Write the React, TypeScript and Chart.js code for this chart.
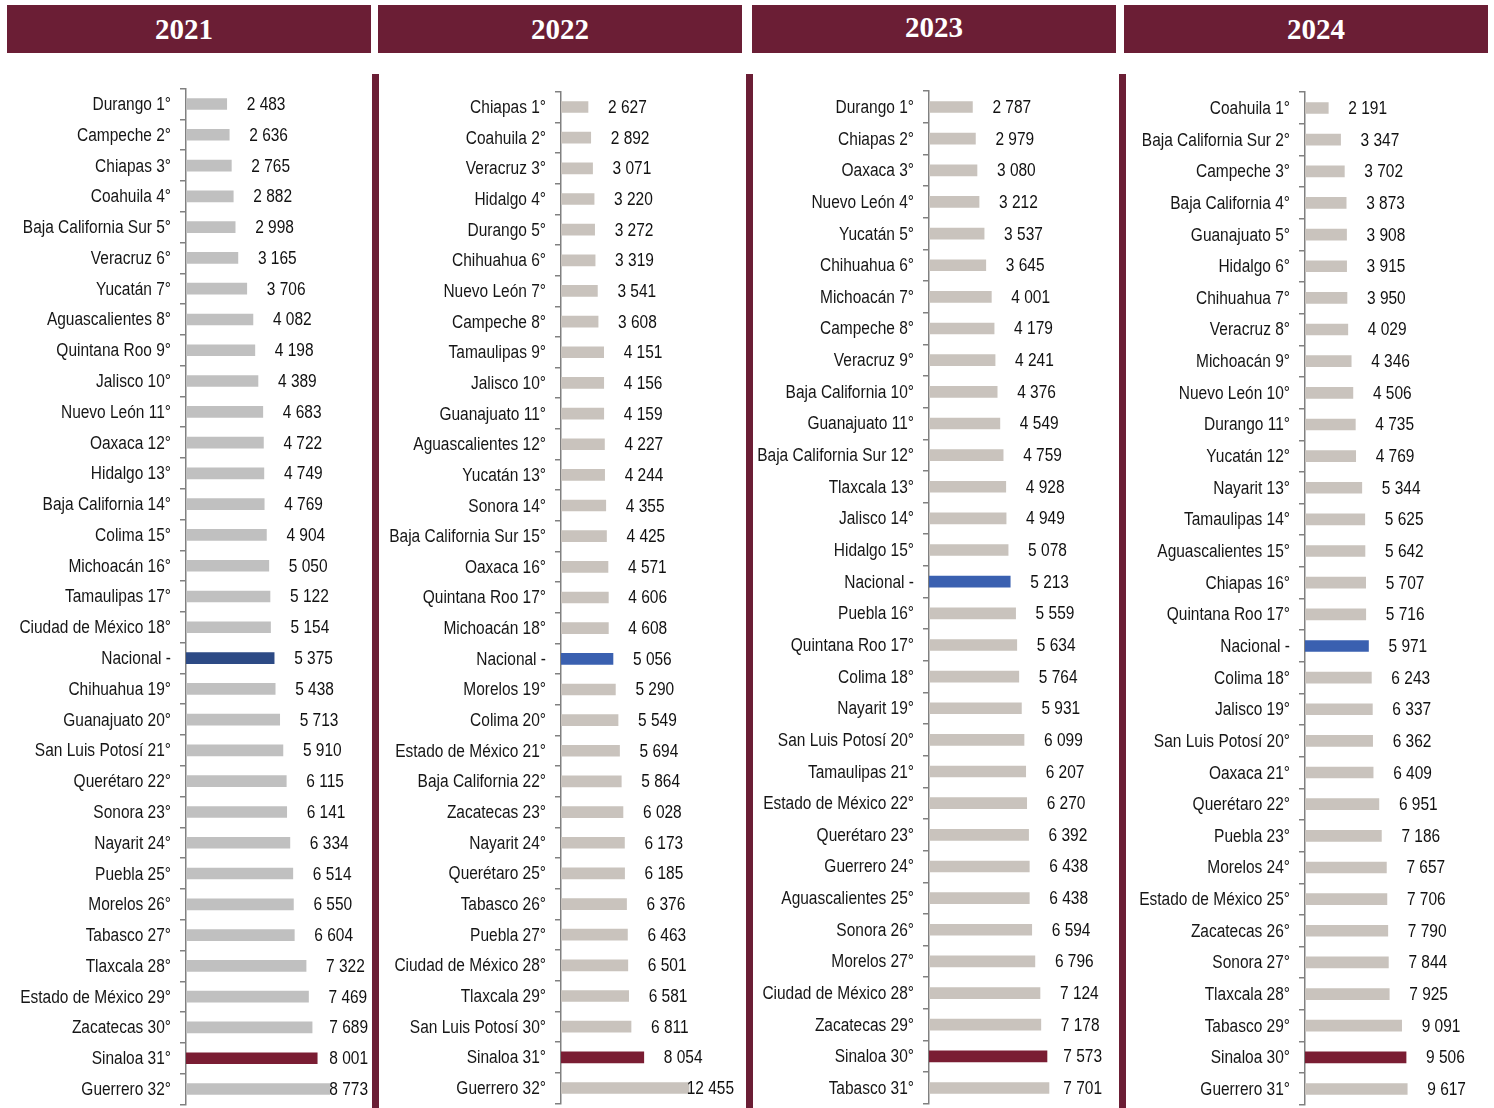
import React, { useEffect, useRef } from "react";
import { Chart, registerables } from "chart.js";
Chart.register(...registerables);

const years = ["2021", "2022", "2023", "2024"];

const labels2021 = ["Durango 1°", "Campeche 2°", "Chiapas 3°", "Coahuila 4°", "Baja California Sur 5°", "Veracruz 6°", "Yucatán 7°", "Aguascalientes 8°", "Quintana Roo 9°", "Jalisco 10°", "Nuevo León 11°", "Oaxaca 12°", "Hidalgo 13°", "Baja California 14°", "Colima 15°", "Michoacán 16°", "Tamaulipas 17°", "Ciudad de México 18°", "Nacional -", "Chihuahua 19°", "Guanajuato 20°", "San Luis Potosí 21°", "Querétaro 22°", "Sonora 23°", "Nayarit 24°", "Puebla 25°", "Morelos 26°", "Tabasco 27°", "Tlaxcala 28°", "Estado de México 29°", "Zacatecas 30°", "Sinaloa 31°", "Guerrero 32°"];
const values2021 = [2483, 2636, 2765, 2882, 2998, 3165, 3706, 4082, 4198, 4389, 4683, 4722, 4749, 4769, 4904, 5050, 5122, 5154, 5375, 5438, 5713, 5910, 6115, 6141, 6334, 6514, 6550, 6604, 7322, 7469, 7689, 8001, 8773];

const labels2022 = ["Chiapas 1°", "Coahuila 2°", "Veracruz 3°", "Hidalgo 4°", "Durango 5°", "Chihuahua 6°", "Nuevo León 7°", "Campeche 8°", "Tamaulipas 9°", "Jalisco 10°", "Guanajuato 11°", "Aguascalientes 12°", "Yucatán 13°", "Sonora 14°", "Baja California Sur 15°", "Oaxaca 16°", "Quintana Roo 17°", "Michoacán 18°", "Nacional -", "Morelos 19°", "Colima 20°", "Estado de México 21°", "Baja California 22°", "Zacatecas 23°", "Nayarit 24°", "Querétaro 25°", "Tabasco 26°", "Puebla 27°", "Ciudad de México 28°", "Tlaxcala 29°", "San Luis Potosí 30°", "Sinaloa 31°", "Guerrero 32°"];
const values2022 = [2627, 2892, 3071, 3220, 3272, 3319, 3541, 3608, 4151, 4156, 4159, 4227, 4244, 4355, 4425, 4571, 4606, 4608, 5056, 5290, 5549, 5694, 5864, 6028, 6173, 6185, 6376, 6463, 6501, 6581, 6811, 8054, 12455];

const labels2023 = ["Durango 1°", "Chiapas 2°", "Oaxaca 3°", "Nuevo León 4°", "Yucatán 5°", "Chihuahua 6°", "Michoacán 7°", "Campeche 8°", "Veracruz 9°", "Baja California 10°", "Guanajuato 11°", "Baja California Sur 12°", "Tlaxcala 13°", "Jalisco 14°", "Hidalgo 15°", "Nacional -", "Puebla 16°", "Quintana Roo 17°", "Colima 18°", "Nayarit 19°", "San Luis Potosí 20°", "Tamaulipas 21°", "Estado de México 22°", "Querétaro 23°", "Guerrero 24°", "Aguascalientes 25°", "Sonora 26°", "Morelos 27°", "Ciudad de México 28°", "Zacatecas 29°", "Sinaloa 30°", "Tabasco 31°"];
const values2023 = [2787, 2979, 3080, 3212, 3537, 3645, 4001, 4179, 4241, 4376, 4549, 4759, 4928, 4949, 5078, 5213, 5559, 5634, 5764, 5931, 6099, 6207, 6270, 6392, 6438, 6438, 6594, 6796, 7124, 7178, 7573, 7701];

const labels2024 = ["Coahuila 1°", "Baja California Sur 2°", "Campeche 3°", "Baja California 4°", "Guanajuato 5°", "Hidalgo 6°", "Chihuahua 7°", "Veracruz 8°", "Michoacán 9°", "Nuevo León 10°", "Durango 11°", "Yucatán 12°", "Nayarit 13°", "Tamaulipas 14°", "Aguascalientes 15°", "Chiapas 16°", "Quintana Roo 17°", "Nacional -", "Colima 18°", "Jalisco 19°", "San Luis Potosí 20°", "Oaxaca 21°", "Querétaro 22°", "Puebla 23°", "Morelos 24°", "Estado de México 25°", "Zacatecas 26°", "Sonora 27°", "Tlaxcala 28°", "Tabasco 29°", "Sinaloa 30°", "Guerrero 31°"];
const values2024 = [2191, 3347, 3702, 3873, 3908, 3915, 3950, 4029, 4346, 4506, 4735, 4769, 5344, 5625, 5642, 5707, 5716, 5971, 6243, 6337, 6362, 6409, 6951, 7186, 7657, 7706, 7790, 7844, 7925, 9091, 9506, 9617];

const MAROON = "#6B1E35";
const FONT = "18px 'Liberation Sans', Arial, sans-serif";
const SCALE_X = 0.86;

type Panel = {
  labels: string[];
  values: number[];
  left: number;
  width: number;
  yWidth: number;
  padTop: number;
  padBottom: number;
  padRight: number;
  xMax: number;
  gray: string;
  blue: string;
};

const panels: Panel[] = [
  { labels: labels2021, values: values2021, left: 0, width: 372, yWidth: 186, padTop: 14.6, padBottom: 3.6, padRight: 4, xMax: 11098, gray: "#C0C0C0", blue: "#2D4A85" },
  { labels: labels2022, values: values2022, left: 379, width: 367, yWidth: 182, padTop: 17.7, padBottom: 4.7, padRight: 12, xMax: 16829, gray: "#C9C3BD", blue: "#3A60B0" },
  { labels: labels2023, values: values2023, left: 753, width: 366, yWidth: 176, padTop: 17.2, padBottom: 4.2, padRight: 17, xMax: 11104, gray: "#C9C3BD", blue: "#3A60B0" },
  { labels: labels2024, values: values2024, left: 1126, width: 368, yWidth: 179, padTop: 18.2, padBottom: 3.2, padRight: 6, xMax: 17215, gray: "#C9C3BD", blue: "#3A60B0" },
];

const fmt = (v: number) => String(v).replace(/\B(?=(\d{3})+(?!\d))/g, " ");

const textPlugin = {
  id: "condensedText",
  afterDatasetsDraw(chart: any) {
    const ctx = chart.ctx;
    const meta = chart.getDatasetMeta(0);
    const data = chart.data.datasets[0].data as number[];
    const labels = chart.data.labels as string[];
    const yScale = chart.scales.y;
    ctx.save();
    ctx.font = FONT;
    ctx.textBaseline = "middle";
    ctx.fillStyle = "#161616";
    labels.forEach((lab: string, i: number) => {
      const y = yScale.getPixelForTick(i);
      ctx.save();
      ctx.translate(chart.chartArea.left - 15, y + 1);
      ctx.scale(SCALE_X, 1);
      ctx.textAlign = "right";
      ctx.fillText(lab, 0, 0);
      ctx.restore();
    });
    ctx.fillStyle = "#111111";
    meta.data.forEach((bar: any, i: number) => {
      const txt = fmt(data[i]);
      const w = ctx.measureText(txt).width * SCALE_X;
      const x = Math.min(bar.x + 20, chart.chartArea.right - w);
      ctx.save();
      ctx.translate(x, bar.y + 1);
      ctx.scale(SCALE_X, 1);
      ctx.textAlign = "left";
      ctx.fillText(txt, 0, 0);
      ctx.restore();
    });
    ctx.restore();
  },
};

function PanelChart({ p }: { p: Panel }) {
  const ref = useRef<HTMLCanvasElement | null>(null);
  useEffect(() => {
    if (!ref.current) return;
    const colors = p.labels.map((l) =>
      l.startsWith("Nacional") ? p.blue : l.startsWith("Sinaloa") ? "#7A1D33" : p.gray
    );
    const chart = new Chart(ref.current, {
      type: "bar",
      data: {
        labels: p.labels,
        datasets: [{ data: p.values, backgroundColor: colors, barThickness: 11 }],
      },
      options: {
        indexAxis: "y",
        animation: false,
        responsive: false,
        maintainAspectRatio: false,
        layout: { padding: { top: p.padTop, bottom: p.padBottom, right: p.padRight, left: 0 } },
        plugins: { legend: { display: false }, tooltip: { enabled: false } },
        scales: {
          x: { display: false, min: 0, max: p.xMax },
          y: {
            type: "category",
            grid: { display: true, drawOnChartArea: false, drawTicks: true, tickLength: 6, color: "#808080", lineWidth: 1.5, offset: true },
            border: { display: true, color: "#808080", width: 1.5 },
            ticks: { display: false, autoSkip: false },
            afterFit: (s: any) => {
              s.width = p.yWidth;
              s.paddingTop = 0;
              s.paddingBottom = 0;
            },
          },
        },
      } as any,
      plugins: [textPlugin],
    });
    return () => chart.destroy();
  }, [p]);
  return (
    <canvas
      ref={ref}
      width={p.width}
      height={1034}
      style={{ position: "absolute", left: p.left, top: 74, width: p.width, height: 1034 }}
    />
  );
}

const headerBoxes = [
  { left: 7, width: 364, dy: 0, dx: -5 },
  { left: 378, width: 364, dy: 0, dx: 0 },
  { left: 752, width: 364, dy: -2, dx: 0 },
  { left: 1124, width: 364, dy: 0, dx: 10 },
];
const separators = [372, 746, 1119];

export default function App() {
  return (
    <div style={{ position: "absolute", left: 0, top: 0, width: 1494, height: 1108, background: "#ffffff", overflow: "hidden" }}>
      {years.map((y, i) => (
        <div
          key={y}
          style={{
            position: "absolute",
            left: headerBoxes[i].left,
            top: 5,
            width: headerBoxes[i].width,
            height: 48,
            background: MAROON,
          }}
        >
          <div
            style={{
              position: "absolute",
              left: headerBoxes[i].dx,
              top: headerBoxes[i].dy,
              width: "100%",
              height: 48,
              color: "#ffffff",
              fontFamily: "'Liberation Serif', 'DejaVu Serif', serif",
              fontWeight: "bold",
              fontSize: 29,
              lineHeight: "48px",
              textAlign: "center",
            }}
          >
            {y}
          </div>
        </div>
      ))}
      {separators.map((x) => (
        <div key={x} style={{ position: "absolute", left: x, top: 74, width: 7, height: 1034, background: MAROON }} />
      ))}
      {panels.map((p, i) => (
        <PanelChart key={i} p={p} />
      ))}
    </div>
  );
}
